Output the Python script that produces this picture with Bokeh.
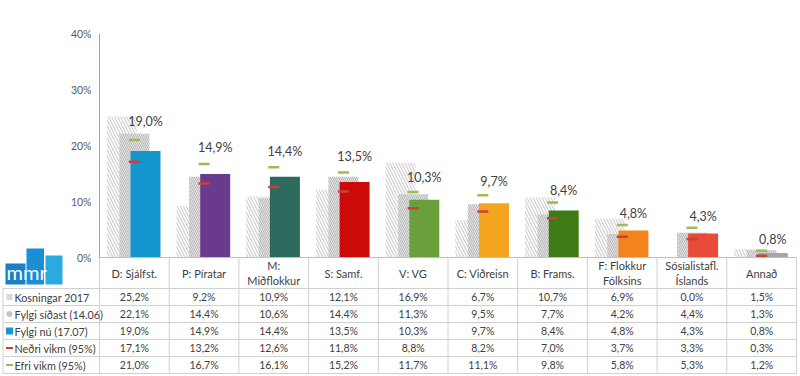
from bokeh.plotting import figure
from bokeh.models import Range1d, LinearAxis, FixedTicker, PrintfTickFormatter
from bokeh.core.properties import value
from bokeh.embed import file_html
from bokeh.resources import INLINE

# ---------------- data ----------------
categories = ["D: Sjálfst.", "P: Píratar", "M:\nMiðflokkur", "S: Samf.", "V: VG",
              "C: Viðreisn", "B: Frams.", "F: Flokkur\nFólksins", "Sósíalistafl.\nÍslands", "Annað"]
kosningar_2017 = [25.2, 9.2, 10.9, 12.1, 16.9, 6.7, 10.7, 6.9, 0.0, 1.5]
fylgi_sidast = [22.1, 14.4, 10.6, 14.4, 11.3, 9.5, 7.7, 4.2, 4.4, 1.3]
fylgi_nu = [19.0, 14.9, 14.4, 13.5, 10.3, 9.7, 8.4, 4.8, 4.3, 0.8]
nedri_vikm = [17.1, 13.2, 12.6, 11.8, 8.8, 8.2, 7.0, 3.7, 3.3, 0.3]
efri_vikm = [21.0, 16.7, 16.1, 15.2, 11.7, 11.1, 9.8, 5.8, 5.3, 1.2]
bar_colors = ["#1497cf", "#6a3a8c", "#2b6a5d", "#cc0a0a", "#6aa03c",
              "#f5a41f", "#3e7b14", "#f4821f", "#e94a3a", "#a6a6a6"]
series_names = ["Kosningar 2017", "Fylgi síðast (14.06)", "Fylgi nú (17.07)",
                "Neðri vikm (95%)", "Efri vikm (95%)"]
y_ticks = [0, 10, 20, 30, 40]

# ---------------- layout constants ----------------
W, H = 800, 376
AXIS_PX = 99          # frame x of the y-axis line
UNIT = 69.7           # px per category
PX = 5.6              # px per percent
ZERO_PX = 257         # frame y of the 0% line
HEADER_H = 31
ROW_H = 17.0
FONT = "Lato"
TXT = "#404040"
GRID = "#d0d0d0"

x0 = -0.5 - AXIS_PX / UNIT
x1 = x0 + W / UNIT
y_top = ZERO_PX / PX
y_bot = -(H - ZERO_PX) / PX


def fx(px):
    return x0 + px / UNIT


def fy(px):
    return (ZERO_PX - px) / PX


def ty(px_below_zero):
    return -px_below_zero / PX


p = figure(width=W, height=H, x_range=Range1d(x0, x1), y_range=Range1d(y_bot, y_top),
           x_axis_type=None, y_axis_type=None, toolbar_location=None,
           output_backend="svg", min_border=0, outline_line_color=None)
p.xgrid.visible = False
p.ygrid.visible = False

n = len(categories)
idx = list(range(n))

# ---------------- bars ----------------
p.vbar(x=[i - 0.18 for i in idx], top=kosningar_2017, width=0.43, bottom=0,
       fill_color="white", line_color=None,
       hatch_pattern="\\", hatch_color="#d0d0d0", hatch_scale=6, hatch_weight=1.2)
p.vbar(x=idx, top=fylgi_sidast, width=0.43, bottom=0,
       fill_color="#e4e4e4", line_color=None,
       hatch_pattern="\\", hatch_color="#b8b8b8", hatch_scale=4, hatch_weight=1)
p.vbar(x=[i + 0.16 for i in idx], top=fylgi_nu, width=0.43, bottom=0,
       fill_color=bar_colors, line_color=None)

p.scatter(x=idx, y=nedri_vikm, marker="dash", size=11, line_color="#c8413b", line_width=2.5)
p.scatter(x=idx, y=efri_vikm, marker="dash", size=11, line_color="#9bbb59", line_width=2.5)


def fmt(v):
    return f"{v:.1f}".replace(".", ",") + "%"


p.text(x=[i + 0.16 for i in idx], y=[v * 1.16 + 2.3 for v in fylgi_nu],
       text=[fmt(v) for v in fylgi_nu], text_align="center", text_baseline="middle",
       text_font=value(FONT), text_font_size="12.5px", text_color=TXT)

# ---------------- y axis ----------------
ax = LinearAxis(fixed_location=-0.5, ticker=FixedTicker(ticks=y_ticks),
                formatter=PrintfTickFormatter(format="%d%%"), bounds=(0, 40))
ax.axis_line_color = "#a6a6a6"
ax.major_tick_line_color = None
ax.minor_tick_line_color = None
ax.major_tick_out = 0
ax.major_tick_in = 0
ax.major_label_standoff = 8
ax.major_label_text_font = FONT
ax.major_label_text_font_size = "10.5px"
ax.major_label_text_color = "#595959"
p.add_layout(ax, "left")

# ---------------- table ----------------
left_x = fx(2.5)
right_x = 9.5
row_tops = [HEADER_H + ROW_H * r for r in range(len(series_names) + 1)]
bottom_px = row_tops[-1]

# header top line (x axis)
p.segment(x0=[-0.5], y0=[0], x1=[right_x], y1=[0], line_color="#bfbfbf", line_width=1)
# row lines
p.segment(x0=[left_x] * len(row_tops), y0=[ty(r) for r in row_tops],
          x1=[right_x] * len(row_tops), y1=[ty(r) for r in row_tops],
          line_color=GRID, line_width=1)
# column lines
cols = [i - 0.5 for i in range(n + 1)]
p.segment(x0=cols, y0=[0] * len(cols), x1=cols, y1=[ty(bottom_px)] * len(cols),
          line_color=GRID, line_width=1)
p.segment(x0=[left_x], y0=[ty(HEADER_H)], x1=[left_x], y1=[ty(bottom_px)],
          line_color=GRID, line_width=1)

# header texts
p.text(x=idx, y=[ty(HEADER_H / 2)] * n, text=categories, text_align="center",
       text_baseline="middle", text_font=value(FONT), text_font_size="11px",
       text_color=TXT, text_line_height=1.15)

# cell values
rows_data = [kosningar_2017, fylgi_sidast, fylgi_nu, nedri_vikm, efri_vikm]
cx, cy, ct = [], [], []
for r, row in enumerate(rows_data):
    for c, v in enumerate(row):
        cx.append(c)
        cy.append(ty(HEADER_H + ROW_H * (r + 0.5)))
        ct.append(fmt(v))
p.text(x=cx, y=cy, text=ct, text_align="center", text_baseline="middle",
       text_font=value(FONT), text_font_size="10.5px", text_color=TXT)

# legend column
leg_y = [ty(HEADER_H + ROW_H * (r + 0.5)) for r in range(len(series_names))]
icon_x = fx(9)
p.rect(x=[icon_x], y=[leg_y[0]], width=6 / UNIT, height=6 / PX, fill_color="white",
       line_color=None, hatch_pattern="\\", hatch_color="#c0c0c0", hatch_scale=3, hatch_weight=1)
p.scatter(x=[icon_x], y=[leg_y[1]], marker="circle", size=6, fill_color="#c4c4c4",
          line_color=None)
p.scatter(x=[icon_x], y=[leg_y[2]], marker="square", size=7, fill_color=bar_colors[0],
          line_color=None)
p.scatter(x=[icon_x], y=[leg_y[3]], marker="dash", size=7, line_color="#c8413b", line_width=2)
p.scatter(x=[icon_x], y=[leg_y[4]], marker="dash", size=7, line_color="#9bbb59", line_width=2)
p.text(x=[fx(14)] * len(series_names), y=leg_y, text=series_names, text_align="left",
       text_baseline="middle", text_font=value(FONT), text_font_size="10.8px", text_color=TXT)

# ---------------- mmr logo ----------------
p.quad(left=[fx(5), fx(26), fx(45)], right=[fx(25), fx(43.5), fx(62)],
       top=[fy(263), fy(248), fy(255)], bottom=[fy(284)] * 3,
       fill_color=["#1b80c3", "#1a8fd6", "#29abe2"], line_color=None)
p.text(x=[fx(6)], y=[fy(283)], text=["mmr"], text_align="left", text_baseline="bottom",
       text_font=value(FONT), text_font_size="20px", text_color="white")

open("out.html", "w").write(file_html(p, INLINE))
